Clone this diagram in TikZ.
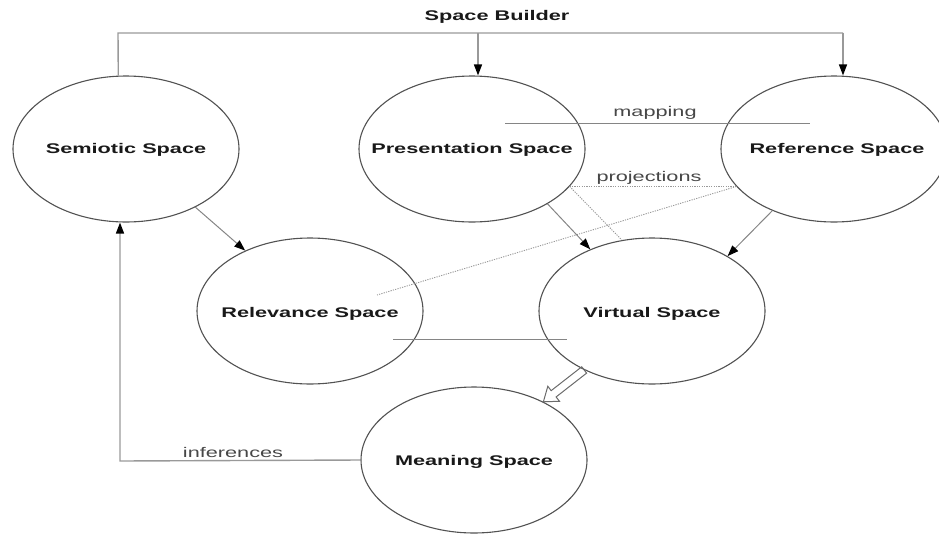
\documentclass[tikz,border=0pt]{standalone}
\usepackage{graphicx}
\usepackage{fontspec}
\setmainfont{Liberation Sans}
\usetikzlibrary{arrows.meta,shapes.geometric,calc}
\begin{document}
\begin{tikzpicture}[x=1pt,y=-1pt,
  ell/.style={draw=black!68, line width=1.1pt, ellipse, minimum width=226pt, minimum height=146pt, inner sep=0pt},
  nm/.style={font=\bfseries\fontsize{14}{16}\selectfont, text=black!90, inner sep=0pt},
  lbl/.style={font=\fontsize{14}{16}\selectfont, text=black!72, inner sep=0pt},
  conn/.style={draw=black!48, line width=1pt},
  bracket/.style={draw=black!40, line width=1.4pt},
  arr/.style={-{Triangle[length=11pt,width=8pt,color=black]}},
  dots/.style={draw=black!40, line width=0.9pt, dash pattern=on 1.2pt off 1.2pt},
  hollow/.style={draw=black!58, line width=1pt, line join=miter}
]
\clip (0,0) rectangle (939,533);

% ellipses
\node[ell] (semi) at (126,149) {};
\node[ell] (pres) at (472,149) {};
\node[ell] (ref)  at (834,149) {};
\node[ell] (rel)  at (310,311) {};
\node[ell] (virt) at (652,311) {};
\node[ell] (mean) at (474,460) {};

% names
\node[nm] (semiT) at (126,150) {\scalebox{1.55}[1]{Semiotic Space}};
\node[nm] (presT) at (472,150) {\scalebox{1.55}[1]{Presentation Space}};
\node[nm] (refT)  at (837,150) {\scalebox{1.55}[1]{Reference Space}};
\node[nm] (relT)  at (310,314) {\scalebox{1.55}[1]{Relevance Space}};
\node[nm] (virtT) at (652,314) {\scalebox{1.55}[1]{Virtual Space}};
\node[nm] (meanT) at (474,462) {\scalebox{1.55}[1]{Meaning Space}};

% space builder
\node[nm] (sbT) at (497,17) {\scalebox{1.55}[1]{Space Builder}};
\coordinate (sbL) at (118,33);
\coordinate (sbP) at (478,33);
\coordinate (sbR) at (843,33);
\draw[bracket] (semi.96) -- (sbL) -- (sbR);
\draw[bracket,arr] (sbP) -- (sbP |- pres.north);
\draw[bracket,arr] (sbR) -- (sbR |- ref.north);

% mapping
\coordinate (m1) at (505,123);
\coordinate (m2) at (810,123);
\draw[conn] (m1) -- (m2);
\node[lbl] (mapT) at (655,113) {\scalebox{1.55}[1]{mapping}};

% projections
\coordinate (relIn) at (377,295);
\draw[dots] (pres.-21.8) -- (ref.201.9);
\draw[dots] (ref.201.9) -- (relIn);
\draw[dots] (pres.-21.8) -- (virt.113);
\node[lbl] (projT) at (649,178) {\scalebox{1.55}[1]{projections}};

% arrows
\draw[conn,arr] (pres.-36.9) -- (virt.135);
\draw[conn,arr] (ref.225.4) -- (virt.36.7);
\draw[conn,arr] (semi.-40.6) -- (rel.137.8);

% relevance - virtual line
\coordinate (rv1) at (393,339);
\coordinate (rv2) at (567,339);
\draw[conn] (rv1) -- (rv2);

% hollow arrow from virtual to meaning
\coordinate (hs) at (virt.221.5);
\coordinate (ht) at (mean.40);
\coordinate (hb) at ($(ht)!13pt!(hs)$);
\draw[hollow]
  ($(hs)!4pt!90:(ht)$) -- ($(hb)!4pt!-90:(hs)$) -- ($(hb)!9.5pt!-90:(hs)$)
  -- (ht) -- ($(hb)!9.5pt!90:(hs)$) -- ($(hb)!4pt!90:(hs)$)
  -- ($(hs)!4pt!-90:(ht)$) -- cycle;

% inferences
\coordinate (infC) at (120,461);
\draw[bracket,arr] (mean.west) -- (infC) -- (infC |- semi.south);
\node[lbl] (infT) at (233,452) {\scalebox{1.55}[1]{inferences}};
\end{tikzpicture}
\end{document}
